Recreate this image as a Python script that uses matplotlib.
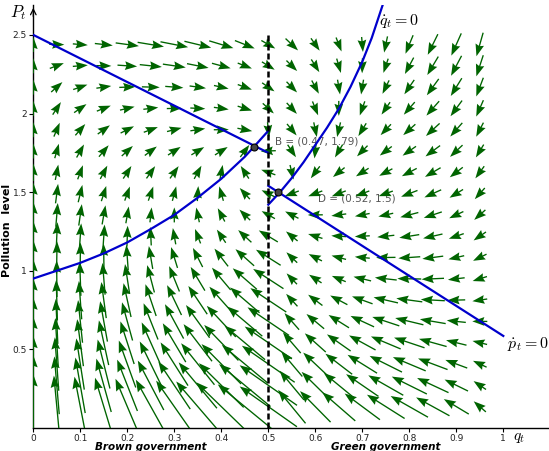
import numpy as np
import matplotlib
matplotlib.use("Agg")
import matplotlib.pyplot as plt

plt.rcParams['mathtext.fontset'] = 'cm'

# q-dot = 0 nullcline, brown (q <= 0.5) and green (q > 0.5) branches
q_null_brown = [0, 0.05, 0.1, 0.15, 0.2, 0.25, 0.3, 0.35, 0.4, 0.45, 0.47, 0.5]
p_null_brown = [0.95, 1.0, 1.05, 1.11, 1.18, 1.265, 1.355, 1.465, 1.585, 1.725, 1.79, 1.89]
q_null_green = [0.5, 0.525, 0.55, 0.575, 0.6, 0.625, 0.65, 0.675, 0.7, 0.72, 0.74, 0.75]
p_null_green = [1.42, 1.50, 1.59, 1.69, 1.80, 1.91, 2.03, 2.17, 2.33, 2.48, 2.66, 2.75]

# p-dot = 0 nullcline, straight segments
pdot_brown_q = [0.0, 0.5]
pdot_brown_p = [2.5, 1.75]
pdot_green_q = [0.5, 1.0]
pdot_green_p = [1.54, 0.585]

# steady states
pt_q = [0.47, 0.52]
pt_p = [1.79, 1.5]

# field grid and speed constants
grid_q = np.arange(0, 0.96, 0.05)
grid_p = 0.1355 * np.arange(1, 19)
k_q_brown = 1.75
k_q_green = 1.0
k_p_up = 1.0
k_p_down = 0.6

xticks = [0, 0.1, 0.2, 0.3, 0.4, 0.5, 0.6, 0.7, 0.8, 0.9, 1]
xticklabels = ['0', '0.1', '0.2', '0.3', '0.4', '0.5', '0.6', '0.7', '0.8', '0.9', '1']
yticks = [0.5, 1, 1.5, 2, 2.5]
yticklabels = ['0.5', '1', '1.5', '2', '2.5']

W, H = 549, 451
x0px, y0px = 33.3, 427.9
sx, sy = 470.0, 157.2  # pixels per unit

fig = plt.figure(figsize=(W / 100, H / 100), dpi=100)
ax = fig.add_axes([x0px / W, (H - y0px) / H, (W - x0px) / W, (y0px - 5) / H])
ax.set_xlim(0, (W - x0px) / sx)
ax.set_ylim(0, (y0px - 5) / sy)

# vector field
Q, P = np.meshgrid(grid_q, grid_p)
brown = Q <= 0.5
q_null = np.where(brown, np.interp(Q, q_null_brown, p_null_brown),
                  np.interp(Q, q_null_green, p_null_green))
q_null = np.where(Q > 0.75, 2.75 + 9 * (Q - 0.75), q_null)
p_null = np.where(brown, np.interp(Q, pdot_brown_q, pdot_brown_p),
                  np.interp(Q, pdot_green_q, pdot_green_p))
k_q = np.where(brown, k_q_brown, k_q_green)
qdot = k_q * Q * (1 - Q) * (P - q_null)
pdot = np.where(P > p_null, k_p_down, k_p_up) * (p_null - P)
dx, dy = qdot * sx, pdot * sy
mag = np.hypot(dx, dy)
L = np.clip(0.2 * mag - 10, 15, 70)
U = L * dx / mag / sx
V = L * dy / mag / sy
ax.quiver(Q, P, U, V, angles='xy', scale_units='xy', scale=1, pivot='middle',
          color='#006400', width=0.0026, headwidth=6.5, headlength=9,
          headaxislength=8, zorder=3)

# nullclines
blue = '#0000cc'
ax.plot(q_null_brown, p_null_brown, color=blue, lw=1.6, zorder=4)
ax.plot(q_null_green, p_null_green, color=blue, lw=1.6, zorder=4)
ax.plot(pdot_brown_q, pdot_brown_p, color=blue, lw=1.6, zorder=4)
ax.plot(pdot_green_q, pdot_green_p, color=blue, lw=1.6, zorder=4)

# government switch
ax.plot([0.5, 0.5], [0, 2.5], color='black', lw=1.8, dashes=(2.4, 1.2), zorder=4)

ax.plot(pt_q, pt_p, 'o', ms=5, mfc='#444444', mec='black', mew=0.8, zorder=5)
ax.text(0.514, 1.825, 'B = (0.47, 1.79)', fontsize=7.5, color='#555555',
        va='center', zorder=2)
ax.text(0.606, 1.46, 'D = (0.52, 1.5)', fontsize=7.5, color='#555555',
        va='center', zorder=2)

# axes
for s in ['top', 'right']:
    ax.spines[s].set_visible(False)
ax.spines['left'].set_linewidth(1.0)
ax.spines['bottom'].set_linewidth(1.0)
ax.set_xticks(xticks)
ax.set_xticklabels(xticklabels)
ax.set_yticks(yticks)
ax.set_yticklabels(yticklabels)
ax.tick_params(labelsize=6.5, length=3, width=0.8, pad=1.5, labelcolor='#222222')
ax.annotate('', xy=(0, 2.69), xytext=(0, 2.6), annotation_clip=False,
            arrowprops=dict(arrowstyle='->', lw=0.9, color='black'))

ax.text(-0.033, 2.645, r'$P_t$', fontsize=12, ha='center', va='center', clip_on=False)
ax.text(1.033, -0.064, r'$q_t$', fontsize=11, ha='center', va='center', clip_on=False)
ax.text(0.735, 2.59, r'$\dot{q}_t = 0$', fontsize=11.5, ha='left', va='center', zorder=6)
ax.text(1.008, 0.534, r'$\dot{p}_t = 0$', fontsize=11.5, ha='left', va='center', clip_on=False)

ax.text(0.25, -0.122, 'Brown government', fontsize=7.5, fontweight='bold',
        fontstyle='italic', ha='center', va='center', clip_on=False)
ax.text(0.75, -0.122, 'Green government', fontsize=7.5, fontweight='bold',
        fontstyle='italic', ha='center', va='center', clip_on=False)
fig.text(7.5 / W, 1 - 230 / H, 'Pollution  level', fontsize=8, fontweight='bold',
         rotation=90, ha='center', va='center')

fig.savefig('out.png', dpi=100)
